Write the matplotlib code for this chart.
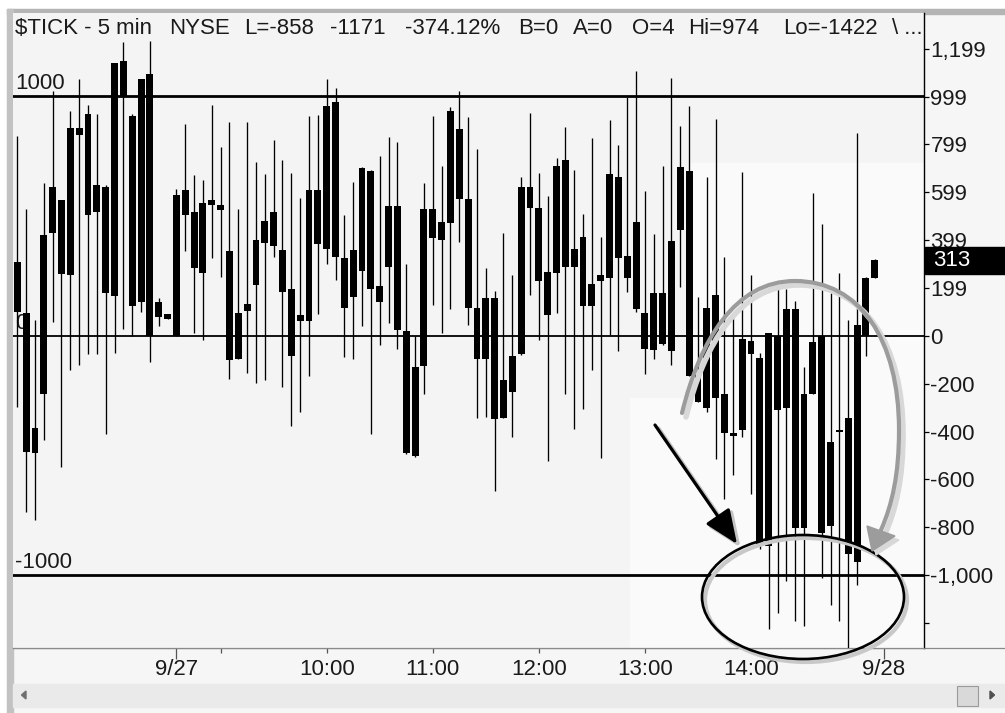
import matplotlib
matplotlib.use('Agg')
import matplotlib.pyplot as plt
import numpy as np
from matplotlib.patches import Rectangle, Ellipse, FancyArrowPatch, Polygon, PathPatch
from matplotlib.path import Path
from matplotlib.transforms import Affine2D, blended_transform_factory

plt.rcParams['font.family'] = ['Liberation Sans', 'DejaVu Sans']

# 5-min $TICK bars (one bar per slot)
highs = [835, 531, 67, 639, 1021, 568, 940, 1074, 965, 926,
         630, 1140, 1227, 926, 1074, 1233, 157, 91, 612, 883,
         670, 650, 964, 789, 893, 531, 893, 726, 675, 816,
         735, 680, 577, 918, 922, 1074, 1035, 503, 643, 705,
         692, 750, 832, 810, 301, -3, 638, 920, 708, 955,
         1023, 913, 782, 284, 185, 428, 255, 665, 930, 681,
         585, 742, 870, 694, 509, 826, 414, 901, 795, 999,
         1108, 603, 426, 709, 1078, 878, 958, 160, 665, 906,
         327, 78, 682, 254, -73, 11, 195, 197, 145, -129,
         597, 465, 177, 262, 66, 847, 245, 321]
body_top = [308, 97, -387, 420, 622, 566, 867, 867, 926, 629,
            622, 1140, 1147, 916, 1074, 1095, 140, 91, 590, 607,
            517, 553, 568, 546, 352, 97, 134, 400, 480, 517,
            357, 194, 85, 607, 607, 958, 978, 323, 359, 702,
            690, 207, 542, 542, 22, -131, 529, 529, 474, 938,
            862, 570, 114, 157, 157, -186, -86, 622, 622, 535,
            268, 711, 734, 362, 413, 217, 255, 674, 665, 332,
            475, 97, 179, 179, 394, 704, 690, -163, 115, 171,
            -243, -405, -14, -20, -94, 10, -1, 111, 113, -244,
            -27, -3, -444, -394, -342, 47, 243, 315]
body_bot = [98, -485, -489, -245, 431, 259, 252, 839, 506, 515,
            179, 168, 1000, 126, 140, 0, 80, 70, 0, 505,
            284, 264, 548, 524, -102, -95, 105, 211, 386, 374,
            182, -85, 63, 63, 383, 362, 328, 115, 161, 270,
            196, 143, 287, 25, -491, -504, -127, 408, 402, 470,
            570, 115, -98, -98, -347, -345, -234, -77, 535, 228,
            88, 264, 287, 286, 125, 125, 228, 240, 325, 240,
            113, -57, -60, -34, -64, 443, -170, -277, -303, -260,
            -405, -418, -393, -75, -880, -877, -311, -303, -803, -804,
            -242, -823, -795, -402, -911, -943, 0, 241]
lows = [-297, -735, -769, -436, 58, -547, -144, -123, -77, -77,
        -412, -73, 28, 0, 98, -109, 42, 70, 0, 352,
        12, -19, 323, 247, -179, -99, -155, -197, -184, 327,
        -214, -376, -320, -170, 92, 298, 234, -88, -99, 42,
        -412, -40, 55, -55, -495, -506, -242, 130, 11, 113,
        391, 43, -344, -340, -648, -345, -422, -79, 171, -17,
        -524, 97, -242, -388, -304, -141, -509, 5, -62, 182,
        100, -158, -99, -40, -121, 202, -170, -277, -320, -515,
        -682, -583, -422, -660, -890, -1223, -1158, -1026, -1190, -1212,
        -245, -1010, -1124, -1190, -1422, -1041, -85, 241]
last_value = 313

day_pos = [18, 98]
day_labels = ['9/27', '9/28']
hour_pos = [23, 35, 47, 59, 71, 83]
hour_labels = ['', '10:00', '11:00', '12:00', '13:00', '14:00']
ytick_vals = [1199, 999, 799, 599, 399, 199, 0, -200, -400, -600, -800, -1000, -1200]
ytick_labels = ['1,199', '999', '799', '599', '399', '199', '0',
                '-200', '-400', '-600', '-800', '-1,000', '']
levels = [1000, 0, -1000]
level_labels = ['1000', '0', '-1000']

header = [('$TICK - 5 min', 15), ('NYSE', 169), ('L=-858', 244), ('-1171', 330),
          ('-374.12%', 405), ('B=0', 518), ('A=0', 573), ('O=4', 632),
          ('Hi=974', 688), ('Lo=-1422', 783), ('\\ ...', 892)]

W, H = 1005, 713
FS = 16
fig = plt.figure(figsize=(W / 100, H / 100), dpi=100, facecolor='white')
px = Affine2D().scale(1 / W, -1 / H).translate(0, 1) + fig.transFigure

# window chrome
bg = fig.add_axes([0, 0, 1, 1], zorder=0)
bg.set_xlim(0, W)
bg.set_ylim(H, 0)
bg.axis('off')
bg.add_patch(Rectangle((7, 9), W - 7, H - 9, color='#f6f6f6'))
bg.add_patch(Rectangle((7, 9), W - 7, 4.5, color='#b4b4b4'))
bg.add_patch(Rectangle((7, 9), 5.7, H - 9, color='#c2c2c2'))
bg.add_patch(Rectangle((12.7, 684), W - 12.7, 23, color='#eaeaea'))
bg.add_patch(Rectangle((957, 685.5), 21, 20, facecolor='#d9d9d9', edgecolor='#9a9a9a', lw=0.8))
bg.add_patch(Polygon([[26, 691], [26, 699], [21.5, 695]], color='#707070'))
bg.add_patch(Polygon([[990, 691], [990, 699], [994.5, 695]], color='#505050'))
bg.plot([12.7, W], [647.7, 647.7], color='#8a8a8a', lw=0.9)

# main chart
ax = fig.add_axes([12.7 / W, 1 - 647.7 / H, (924 - 12.7) / W, (647.7 - 13.3) / H], zorder=1)
ax.set_facecolor('#f4f4f4')
ax.add_patch(Rectangle((630, 398), 300, 250, transform=px, color='#fafafa', zorder=0))
ax.add_patch(Rectangle((690, 163), 240, 236, transform=px, color='#fafafa', zorder=0))

idx = np.arange(len(highs))
top = np.array(body_top, dtype=float)
bot = np.array(body_bot, dtype=float)
h = np.maximum(top - bot, 12)
ax.vlines(idx, lows, highs, color='black', lw=0.95, zorder=3)
ax.bar(idx, h, bottom=(top + bot) / 2 - h / 2, width=0.78, color='black', zorder=3)

ytr = blended_transform_factory(ax.transAxes, ax.transData)
for lvl, lab in zip(levels, level_labels):
    ax.axhline(lvl, color='black', lw=2.0 if lvl else 1.3, zorder=2)
    ax.text(0.0025, lvl + 29, lab, transform=ytr, fontsize=FS, va='baseline',
            ha='left', color='#1a1a1a', zorder=1)

ax.set_xlim(-0.52, 102.57)
ax.set_ylim(-1303, 1347)
ax.yaxis.tick_right()
ax.set_yticks(ytick_vals, labels=ytick_labels)
ax.tick_params(axis='y', direction='out', length=3.6, width=0.9, pad=1.0,
               labelsize=FS, labelcolor='#1a1a1a')
ax.set_xticks(day_pos, labels=day_labels)
ax.set_xticks(hour_pos, labels=hour_labels, minor=True)
ax.tick_params(axis='x', which='major', length=8, width=0.9, pad=0,
               labelsize=FS, color='#555555', labelcolor='#1a1a1a')
ax.tick_params(axis='x', which='minor', length=3.6, width=0.9, pad=4.4,
               labelsize=FS, color='#555555', labelcolor='#1a1a1a')
for s in ['left', 'top']:
    ax.spines[s].set_visible(False)
ax.spines['bottom'].set_color('#8a8a8a')
ax.spines['bottom'].set_linewidth(0.9)
ax.spines['right'].set_color('black')
ax.spines['right'].set_linewidth(1.0)

# last value marker on the price scale
ax.add_patch(Rectangle((1.001, last_value - 55), 0.12, 112, transform=ytr,
                       color='black', clip_on=False, zorder=5))
ax.text(1.0099, last_value, str(last_value), transform=ytr, color='white',
        fontsize=FS, va='center', ha='left', zorder=6, clip_on=False)

# header text and hand-drawn annotations
ov = fig.add_axes([0, 0, 1, 1], zorder=3)
ov.set_xlim(0, W)
ov.set_ylim(H, 0)
ov.axis('off')
for txt, x in header:
    ov.text(x, 29, txt, fontsize=FS, va='center', ha='left', color='#1a1a1a')

# black arrow
for dx, col, lw in [(3.5, '#c4c4c4', 3.0), (0, 'black', 2.3)]:
    ov.add_patch(FancyArrowPatch((655 + dx, 425 + dx), (737 + dx, 544 + dx),
                                 arrowstyle='-|>,head_length=1.3,head_width=0.55',
                                 mutation_scale=16, color=col, lw=lw,
                                 shrinkA=0, shrinkB=0))

# black ellipse
ov.add_patch(Ellipse((806, 600), 202, 124, fill=False, ec='#c8c8c8', lw=3.0))
ov.add_patch(Ellipse((803, 597), 202, 124, fill=False, ec='black', lw=1.9))

# grey curved arrow: curve plus a separate head
verts = [(682, 413), (700, 340), (735, 281), (795, 281),
         (860, 281), (899, 340), (899, 430),
         (899, 475), (892, 505), (881, 530)]
codes = [Path.MOVETO] + [Path.CURVE4] * 9
head = [(872, 551), (867, 526), (895, 536)]
for dx, col, lw in [(4, '#d8d8d8', 4.0), (0, '#9c9c9c', 3.0)]:
    path = Path([(x + dx, y + dx) for x, y in verts], codes)
    ov.add_patch(PathPatch(path, fill=False, ec=col, lw=lw, capstyle='round'))
    ov.add_patch(Polygon([(x + dx, y + dx) for x, y in head], closed=True,
                         fc=col, ec=col, lw=1))

fig.savefig('out.png', dpi=100, facecolor=fig.get_facecolor())
